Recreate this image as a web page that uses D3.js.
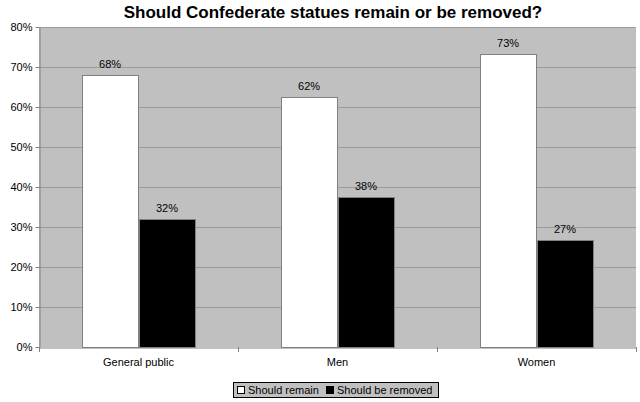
<!DOCTYPE html>
<html><head><meta charset="utf-8">
<script src="https://cdn.jsdelivr.net/npm/d3@7"></script>
<style>body{margin:0;background:#fff}svg{display:block;font-family:"Liberation Sans",Arial,sans-serif}</style>
</head><body><svg id="c" width="640" height="402"></svg>
<script>
const categories = ["General public", "Men", "Women"];
const seriesNames = ["Should remain", "Should be removed"];
const remain = [67.9, 62.4, 73.3];
const removed = [32.1, 37.6, 26.7];
const yTicks = [0, 10, 20, 30, 40, 50, 60, 70, 80];

const svg = d3.select("#c");
const m = {l: 39, r: 4, t: 27, b: 55};
const W = 640, H = 402;
const x = d3.scaleBand().domain(categories).range([m.l, W - m.r]);
const y = d3.scaleLinear().domain([0, 80]).range([H - m.b, m.t]);
const inner = d3.scaleBand().domain(seriesNames).range([0, x.bandwidth()]).paddingInner(0.0).paddingOuter(0.75);
const colors = {"Should remain": "#ffffff", "Should be removed": "#000000"};

svg.append("rect").attr("x", m.l).attr("y", m.t).attr("width", W - m.r - m.l).attr("height", H - m.b - m.t).attr("fill", "#c0c0c0");

svg.append("g").selectAll("line").data(yTicks.filter(d => d > 0)).join("line")
  .attr("x1", m.l).attr("x2", W - m.r).attr("y1", d => y(d) + 0.5).attr("y2", d => y(d) + 0.5)
  .attr("stroke", "#9a9a9a").attr("stroke-width", 1);

const yAxis = svg.append("g").attr("transform", `translate(${m.l + 0.5},0)`)
  .call(d3.axisLeft(y).tickValues(yTicks).tickFormat(d => d + "%").tickSize(4).tickSizeOuter(0));
yAxis.select(".domain").attr("stroke", "#808080");
yAxis.selectAll(".tick line").attr("stroke", "#808080");
yAxis.selectAll("text").attr("font-size", 11).attr("fill", "#000").attr("font-family", "Liberation Sans, Arial, sans-serif");

const xAxis = svg.append("g").attr("transform", `translate(0,${H - m.b + 0.5})`)
  .call(d3.axisBottom(x).tickSize(0).tickPadding(11));
xAxis.select(".domain").attr("stroke", "#808080");
xAxis.selectAll("text").attr("font-size", 11).attr("fill", "#000").attr("font-family", "Liberation Sans, Arial, sans-serif");
svg.append("g").selectAll("line").data([...categories.map(c => x(c)), W - m.r]).join("line")
  .attr("x1", d => Math.round(d) + 0.5).attr("x2", d => Math.round(d) + 0.5)
  .attr("y1", H - m.b).attr("y2", H - m.b + 5).attr("stroke", "#808080");

const data = [];
categories.forEach((c, i) => {
  data.push({c, s: seriesNames[0], v: remain[i]});
  data.push({c, s: seriesNames[1], v: removed[i]});
});

svg.append("g").selectAll("rect").data(data).join("rect")
  .attr("x", d => Math.round(x(d.c) + inner(d.s)) + 0.5)
  .attr("y", d => Math.round(y(d.v)) + 0.5)
  .attr("width", Math.round(inner.bandwidth()) - 1)
  .attr("height", d => Math.round(y(0)) - Math.round(y(d.v)))
  .attr("fill", d => colors[d.s]).attr("stroke", "#808080").attr("stroke-width", 1);

svg.append("g").selectAll("text").data(data).join("text")
  .attr("x", d => x(d.c) + inner(d.s) + inner.bandwidth() / 2)
  .attr("y", d => y(d.v) - 7)
  .attr("text-anchor", "middle").attr("font-size", 11).attr("fill", "#000")
  .text(d => d3.format(".0f")(d.v) + "%");

svg.append("text").attr("x", 333).attr("y", 18).attr("text-anchor", "middle")
  .attr("font-size", 17).attr("font-weight", "bold").text("Should Confederate statues remain or be removed?");

const lg = svg.append("g");
lg.append("rect").attr("x", 233.5).attr("y", 382.5).attr("width", 205).attr("height", 15)
  .attr("fill", "#c0c0c0").attr("stroke", "#000").attr("stroke-width", 1);
const items = [{s: seriesNames[0], x: 237}, {s: seriesNames[1], x: 326}];
items.forEach(it => {
  lg.append("rect").attr("x", it.x + 0.5).attr("y", 386.5).attr("width", 7).attr("height", 7)
    .attr("fill", colors[it.s]).attr("stroke", "#000");
  lg.append("text").attr("x", it.x + 11).attr("y", 394).attr("font-size", 11).attr("fill", "#000").text(it.s);
});
</script></body></html>
